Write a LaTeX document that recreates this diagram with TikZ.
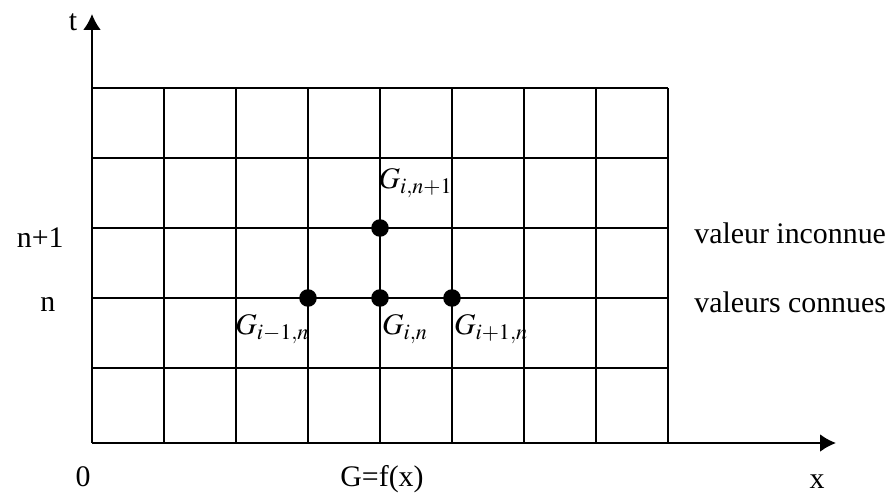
\documentclass[tikz,border=0pt]{standalone}
\usepackage{mathptmx}
\usepackage{fontspec}
\setmainfont{Liberation Serif}
\usepackage{tikz}
\usetikzlibrary{arrows.meta, positioning}

\tikzset{
  gridline/.style={line width=1.1pt},
  axis/.style={line width=1.1pt, -{Latex[length=9pt,width=10pt]}},
  dot/.style={circle, fill, inner sep=0pt, minimum size=10pt},
  lbl/.style={inner sep=0pt, font=\fontsize{17}{19}\selectfont},
  glbl/.style={inner sep=0pt, font=\fontsize{17}{19}\selectfont}
}

\begin{document}
\begin{tikzpicture}[x=0.02cm, y=-0.02cm]
\useasboundingbox (0,0) rectangle (892,495);
% Grid
\foreach \x in {92,164,...,668}
  \draw[gridline] (\x,88) -- (\x,443);
\foreach \y in {88,158,228,298,368}
  \draw[gridline] (92,\y) -- (668,\y);
% Axes
\coordinate (O) at (92,443);
\coordinate (tend) at (92,14);
\coordinate (xend) at (836,443);
\draw[axis] (O) -- (tend);
\draw[axis] (O) -- (xend);
\node[lbl] (t) at (73,22) {t};
\node[lbl] (zero) at (83,477) {0};
\node[lbl] (x) at (817,482) {x};
\node[lbl] (G) at (382,479) {G=f(x)};
% Time levels
\node[lbl, anchor=east] (np1) at (64,238) {n+1};
\node[lbl, anchor=west] (n) at (40,304) {n};
\node[lbl, anchor=west] (inconnue) at (694,233) {valeur inconnue};
\node[lbl, anchor=west] (connues) at (694,302) {valeurs connues};
% Nodes of the scheme
\node[dot] (gip) at (380,228) {};
\node[dot] (gim) at (308,298) {};
\node[dot] (gin) at (380,298) {};
\node[dot] (gnp) at (452,298) {};
\node[glbl, anchor=south west] (lgip) at ([xshift=-1pt, yshift=12pt]gip.north) {$G_{i,n+1}$};
\node[glbl, anchor=north east] (lgim) at ([xshift=1pt, yshift=-4pt]gim.south) {$G_{i-1,n}$};
\node[glbl, anchor=north west] (lgin) at ([xshift=1pt, yshift=-4pt]gin.south) {$G_{i,n}$};
\node[glbl, anchor=north west] (lgnp) at ([xshift=1pt, yshift=-4pt]gnp.south) {$G_{i+1,n}$};
\end{tikzpicture}
\end{document}
